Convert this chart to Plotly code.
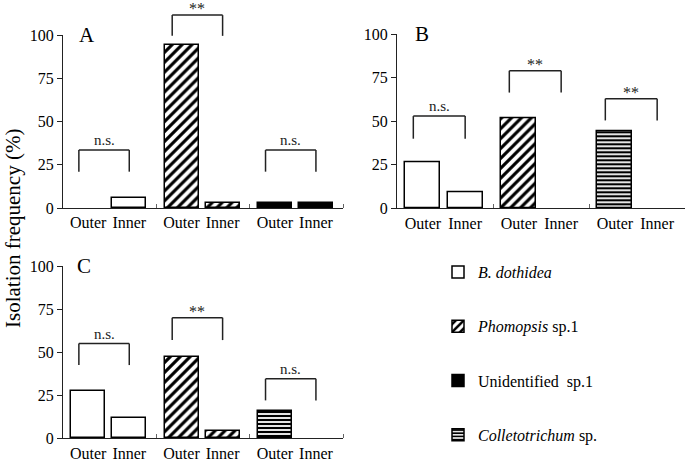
import plotly.graph_objects as go

# ---------------- data ----------------
panels = ["A", "B", "C"]
tick_labels = ["Outer", "Inner", "Outer", "Inner", "Outer", "Inner"]
panel_fungi = {
    "A": ["B. dothidea", "Phomopsis sp.1", "Unidentified sp.1"],
    "B": ["B. dothidea", "Phomopsis sp.1", "Colletotrichum sp."],
    "C": ["B. dothidea", "Phomopsis sp.1", "Colletotrichum sp."],
}
outer_values = {
    "A": [0, 94.5, 2.8],
    "B": [26.5, 52, 44.5],
    "C": [27.5, 47, 16],
}
inner_values = {
    "A": [5.6, 2.8, 2.8],
    "B": [9, 0, 0],
    "C": [12, 4, 0],
}
# significance brackets: top height, leg bottom height, label
bracket_top = {"A": [33.5, 111.5, 33.5], "B": [53, 79, 63], "C": [55, 70, 34.5]}
bracket_leg = {"A": [21, 99.5, 21], "B": [40, 66.5, 50.5], "C": [42.5, 57, 22]}
bracket_label = {"A": ["n.s.", "**", "n.s."], "B": ["n.s.", "**", "**"], "C": ["n.s.", "**", "n.s."]}
legend_names = {
    "B. dothidea": "<i>B. dothidea</i>",
    "Phomopsis sp.1": "<i>Phomopsis</i> sp.1",
    "Unidentified sp.1": "Unidentified  sp.1",
    "Colletotrichum sp.": "<i>Colletotrichum</i> sp.",
}
Y_MAX = 100

# ---------------- styles ----------------
W, H = 685, 461
FONT = "Liberation Serif, Times New Roman, serif"
styles = {
    "B. dothidea": dict(color="white", pattern=dict(shape="")),
    "Phomopsis sp.1": dict(color="white", pattern=dict(shape="/", fgcolor="black", bgcolor="white",
                                                        size=7, solidity=0.45, fillmode="replace")),
    "Unidentified sp.1": dict(color="black", pattern=dict(shape="")),
    "Colletotrichum sp.": dict(color="white", pattern=dict(shape="-", fgcolor="black", bgcolor="white",
                                                            size=4, solidity=0.55, fillmode="replace")),
}
OUT_OFF, IN_OFF, BAR_W, BR_START = 0.27, 0.71, 0.365, 0.17

# domains in pixels (left, right, top, bottom)
dom_px = {"A": (63, 343, 35, 208), "B": (397, 685, 34.3, 208.3), "C": (63, 343, 266, 438.3)}

fig = go.Figure()
seen = set()
for i, p in enumerate(panels):
    ax = "" if i == 0 else str(i + 1)
    xa, ya = "x" + ax, "y" + ax
    for g, fungus in enumerate(panel_fungi[p]):
        st = styles[fungus]
        show = fungus not in seen
        seen.add(fungus)
        vals = [outer_values[p][g], inner_values[p][g]]
        fig.add_trace(go.Bar(
            x=[g + OUT_OFF, g + IN_OFF],
            y=[v if v > 0 else None for v in vals],  # zero-height bars are not drawn
            width=BAR_W,
            marker=dict(color=st["color"], pattern=st["pattern"],
                        line=dict(color="black", width=1.5)),
            name=legend_names[fungus], legendgroup=fungus, showlegend=show,
            xaxis=xa, yaxis=ya,
        ))
        # significance bracket
        x0, x1 = g + BR_START, g + IN_OFF
        top = bracket_top[p][g] / Y_MAX
        leg = bracket_leg[p][g] / Y_MAX
        for (sx0, sy0, sx1, sy1) in [(x0, leg, x0, top), (x0, top, x1, top), (x1, top, x1, leg)]:
            fig.add_shape(type="line", xref=xa, yref=ya + " domain",
                          x0=sx0, y0=sy0, x1=sx1, y1=sy1,
                          line=dict(color="#222", width=1.5))
        lab = bracket_label[p][g]
        fig.add_annotation(text=lab, xref=xa, yref=ya + " domain",
                           x=(x0 + x1) / 2, y=top, xanchor="center", yanchor="bottom",
                           yshift=-4 if lab == "**" else 0, showarrow=False,
                           font=dict(family=FONT, size=16 if lab == "**" else 15, color="#222"))

    l, r, t, b = dom_px[p]
    xdom = [l / W, r / W]
    ydom = [1 - b / H, 1 - t / H]
    fig.layout["xaxis" + ax] = dict(
        domain=xdom, range=[0, 3], anchor=ya, automargin=False,
        tickmode="array",
        tickvals=[g + o for g in range(3) for o in (OUT_OFF, IN_OFF)],
        ticktext=tick_labels, ticks="", showline=True, linecolor="#222", linewidth=1,
        tickfont=dict(family=FONT, size=16, color="black"),
        minor=dict(tickmode="array", tickvals=[1, 2, 3], ticks="inside", ticklen=4,
                   tickcolor="#666", tickwidth=1),
        showgrid=False, zeroline=False, fixedrange=True,
    )
    fig.layout["yaxis" + ax] = dict(
        domain=ydom, range=[0, Y_MAX], anchor=xa, automargin=False,
        tickmode="array", tickvals=[0, 25, 50, 75, 100],
        ticks="outside", ticklen=5, tickcolor="#222",
        showline=True, linecolor="#222", linewidth=1,
        tickfont=dict(family=FONT, size=16, color="black"),
        showgrid=False, zeroline=False, fixedrange=True,
    )
    fig.add_annotation(text=p, xref=xa + " domain", yref=ya + " domain",
                       x={"A": 0.049, "B": 0.057, "C": 0.043}[p], y=1.0,
                       xanchor="left", yanchor="middle", showarrow=False,
                       font=dict(family=FONT, size=21, color="black"))

fig.add_annotation(text="Isolation frequency (%)", xref="paper", yref="paper",
                   x=13 / W, y=1 - 229 / H, textangle=-90, showarrow=False,
                   xanchor="center", yanchor="middle",
                   font=dict(family=FONT, size=21, color="black"))

fig.update_layout(
    template="none",
    width=W, height=H, margin=dict(l=0, r=0, t=0, b=0, pad=0, autoexpand=False),
    paper_bgcolor="white", plot_bgcolor="white",
    barmode="overlay", bargap=0,
    legend=dict(x=438 / W, y=1 - 255 / H, xanchor="left", yanchor="top",
                tracegroupgap=30.5,
                font=dict(family=FONT, size=16, color="black"),
                bgcolor="rgba(0,0,0,0)", borderwidth=0, traceorder="grouped"),
    font=dict(family=FONT),
)

fig.write_html("out.html", config={"displayModeBar": False},
               post_script="document.body.style.margin='0';document.body.style.overflow='hidden';")
